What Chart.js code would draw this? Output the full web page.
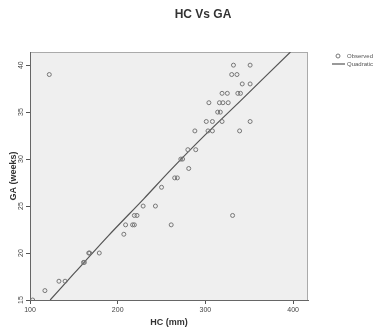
<!DOCTYPE html>
<html>
<head>
<meta charset="utf-8">
<script src="https://cdn.jsdelivr.net/npm/chart.js@4"></script>
<style>
  html, body { margin: 0; padding: 0; background: #fff; }
</style>
</head>
<body>
<canvas id="myChart" width="378" height="331"></canvas>
<script>
// observed points (HC in mm, GA in weeks)
const hcObserved = [122, 103, 117, 133, 140, 161, 162, 167, 168, 179,
  207, 209, 217, 219, 219, 222, 229, 243, 250, 261,
  265, 268, 331, 281, 272, 274, 280, 289,
  288, 303, 308, 339, 301, 308, 319, 351,
  314, 317, 304, 316, 320, 326,
  319, 325, 337, 340, 342, 351, 330, 336, 332, 351];
const gaObserved = [39, 15, 16, 17, 17, 19, 19, 20, 20, 20,
  22, 23, 23, 23, 24, 24, 25, 25, 27, 23,
  28, 28, 24, 29, 30, 30, 31, 31,
  33, 33, 33, 33, 34, 34, 34, 34,
  35, 35, 36, 36, 36, 36,
  37, 37, 37, 37, 38, 38, 39, 39, 40, 40];

// quadratic fit line
const hcFit = [123, 150, 189, 230, 260, 300, 340, 397];
const gaFit = [15, 17.8, 21.8, 25.8, 28.8, 32.6, 36.2, 41.4];

const xTicks = [100, 200, 300, 400];
const yTicks = [15, 20, 25, 30, 35, 40];

const FONT = '"Liberation Sans", Arial, sans-serif';

const frame = {
  id: 'frame',
  beforeDraw(chart) {
    const {ctx, chartArea: a} = chart;
    ctx.save();
    ctx.fillStyle = '#efefef';
    ctx.fillRect(a.left, a.top, a.right - a.left, a.bottom - a.top);
    ctx.strokeStyle = '#aaa';
    ctx.lineWidth = 1;
    ctx.strokeRect(a.left + 0.5, a.top + 0.5, a.right - a.left - 1, a.bottom - a.top);
    ctx.restore();
  },
  afterDraw(chart) {
    const ctx = chart.ctx;
    ctx.save();
    // title
    ctx.fillStyle = '#333';
    ctx.font = 'bold 12px ' + FONT;
    ctx.textAlign = 'center';
    ctx.textBaseline = 'middle';
    ctx.fillText('HC Vs GA', 203, 15);
    // legend
    ctx.font = '6px ' + FONT;
    ctx.textAlign = 'left';
    ctx.fillStyle = '#555';
    ctx.strokeStyle = '#777';
    ctx.lineWidth = 1;
    ctx.beginPath();
    ctx.arc(338, 56, 2, 0, Math.PI * 2);
    ctx.stroke();
    ctx.fillText('Observed', 347, 56);
    ctx.strokeStyle = '#555';
    ctx.lineWidth = 1.2;
    ctx.beginPath();
    ctx.moveTo(332, 64);
    ctx.lineTo(345, 64);
    ctx.stroke();
    ctx.fillText('Quadratic', 347, 64);
    ctx.restore();
  }
};

new Chart(document.getElementById('myChart'), {
  type: 'scatter',
  data: {
    datasets: [
      {
        label: 'Observed',
        data: hcObserved.map((x, i) => ({x: x, y: gaObserved[i]})),
        pointRadius: 2,
        pointBorderWidth: 1,
        pointBorderColor: '#777',
        pointBackgroundColor: 'rgba(0,0,0,0)'
      },
      {
        label: 'Quadratic',
        data: hcFit.map((x, i) => ({x: x, y: gaFit[i]})),
        showLine: true,
        pointRadius: 0,
        borderColor: '#555',
        borderWidth: 1.2,
        tension: 0.3
      }
    ]
  },
  options: {
    responsive: false,
    animation: false,
    devicePixelRatio: 1,
    layout: { padding: { top: 52, right: 70, left: 0, bottom: 0 } },
    plugins: {
      legend: { display: false },
      title: { display: false },
      tooltip: { enabled: false }
    },
    scales: {
      x: {
        type: 'linear',
        min: 100,
        max: 417,
        afterBuildTicks: s => { s.ticks = xTicks.map(v => ({value: v})); },
        afterFit: s => { s.height = 31; },
        ticks: { font: { family: FONT, size: 7 }, color: '#444', padding: 2, maxRotation: 0 },
        grid: { drawOnChartArea: false, tickLength: 4, color: '#555' },
        border: { color: '#666' },
        title: { display: true, text: 'HC (mm)', color: '#333',
          font: { family: FONT, size: 9, weight: 'bold' }, padding: { top: 0, bottom: 3 } }
      },
      y: {
        type: 'linear',
        min: 15,
        max: 41.4,
        afterBuildTicks: s => { s.ticks = yTicks.map(v => ({value: v})); },
        afterFit: s => { s.width = 30; },
        ticks: { font: { family: FONT, size: 7 }, color: '#444', padding: 1,
          minRotation: 90, maxRotation: 90, crossAlign: 'center' },
        grid: { drawOnChartArea: false, tickLength: 4, color: '#555' },
        border: { color: '#666' },
        title: { display: true, text: 'GA (weeks)', color: '#333',
          font: { family: FONT, size: 9, weight: 'bold' }, padding: { top: 8.6, bottom: 0 } }
      }
    }
  },
  plugins: [frame]
});
</script>
</body>
</html>
